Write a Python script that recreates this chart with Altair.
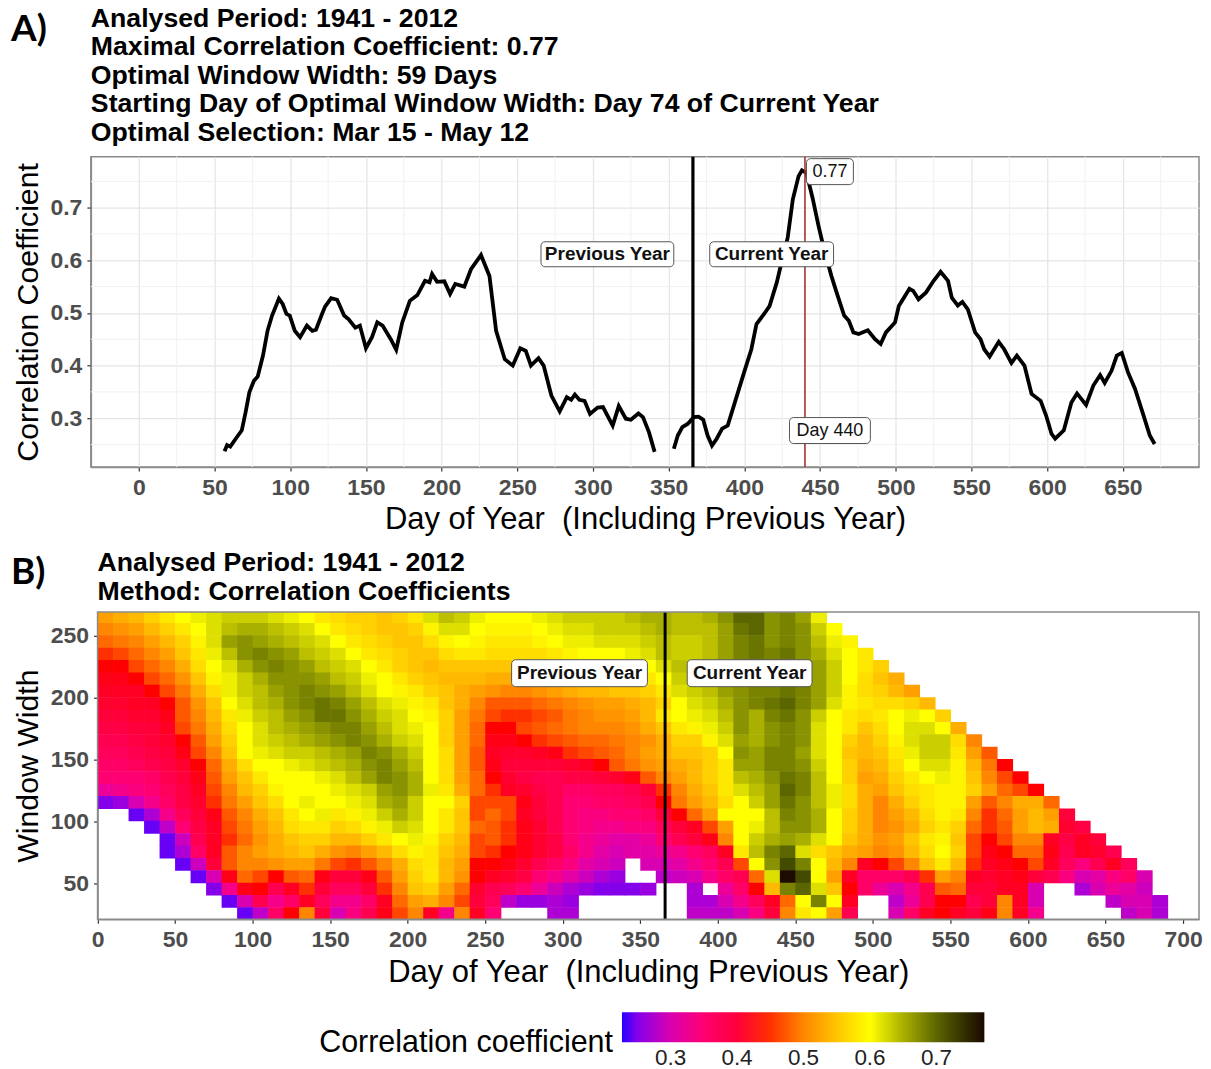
import altair as alt
import pandas as pd

FONT = "Liberation Sans"

# ---- Panel A: correlation for the optimal window width ----
prev_days = [56.6,58.3,60.4,64,68,70.5,73,76,78.5,82,85,88,92.5,95,97.5,99.7,103,106.5,111,114.6,117,121,123,127,131,135.6,138.6,143,146,150,154,157.5,161,166.4,170,174,179,184,189,192,193.7,197,201.8,205.6,209,215,219.4,226,231.6,236,241.7,247,252,255.6,259,264,267.4,272.5,278,282.7,285.6,288,291,294.4,298,303,306.6,313,317,321.7,325,330,333,337,340.7]
prev_vals = [.237,.249,.246,.261,.277,.311,.349,.371,.379,.419,.466,.495,.527,.517,.498,.495,.466,.454,.476,.466,.468,.498,.512,.528,.525,.495,.488,.472,.476,.433,.454,.482,.476,.450,.430,.482,.523,.534,.561,.558,.574,.559,.560,.536,.555,.550,.583,.610,.570,.466,.412,.400,.433,.428,.400,.414,.400,.343,.313,.340,.335,.345,.335,.333,.308,.320,.321,.286,.323,.299,.297,.309,.302,.273,.236]
curr_days = [353.4,356,359,362.5,366.6,369.7,372.8,375.7,378.6,381.7,385.3,389,393.7,399.8,404.6,408,413,416.6,421.4,425,428.6,432,435.8,438,441,445,449,452.6,457.5,461,465.9,469,472,475.5,481.5,486.3,490,493.5,499.5,502,509,511.5,515,520,525,529.6,534.5,537,541,544,547.6,552.4,556,558.4,562,568,571.6,576.4,580,585,589.7,595.7,599.3,602.9,605.3,611,616,619.7,625.7,630.5,635,638,642.5,646,649.3,653.4,658,663,667.8,671]
curr_vals = [.242,.267,.283,.289,.302,.303,.297,.267,.248,.261,.280,.286,.330,.387,.431,.479,.498,.513,.558,.602,.643,.716,.760,.771,.766,.719,.665,.621,.570,.538,.495,.485,.463,.460,.467,.450,.441,.463,.482,.513,.546,.542,.526,.539,.561,.578,.561,.529,.514,.521,.507,.463,.450,.431,.417,.445,.431,.405,.419,.400,.346,.333,.305,.270,.261,.277,.330,.347,.325,.362,.382,.367,.390,.419,.424,.387,.356,.311,.267,.251]

a_x_ticks = list(range(0, 651, 50))
a_y_ticks = [0.3, 0.4, 0.5, 0.6, 0.7]
a_x_minor = list(range(25, 676, 50))
a_y_minor = [0.25, 0.35, 0.45, 0.55, 0.65, 0.75]
a_title = ["Analysed Period: 1941 - 2012",
           "Maximal Correlation Coefficient: 0.77",
           "Optimal Window Width: 59 Days",
           "Starting Day of Optimal Window Width: Day 74 of Current Year",
           "Optimal Selection: Mar 15 - May 12"]

# ---- Panel B: values x100 by window width (rows) and starting day (columns, 0,10,...); 0 = no value ----
grid_days = list(range(0, 710, 10))
w265 = [52,53,54,56,58,60,61,62,63,63,  63,62,61,60,58,57,56,56,55,56,  58,62,64,63,61,60,60,60,61,62,  63,63,63,63,64,65,65,64,64,65,  67,70,70,67,68,66,61]
w255 = [50,51,52,54,56,58,60,62,64,65,  65,64,63,62,60,58,57,56,55,55,  56,59,62,62,60,59,59,59,60,61,  62,62,63,63,63,64,65,64,64,64,  66,69,70,67,68,67,63,60]
w245 = [48,49,50,52,54,56,59,62,66,67,  66,65,64,63,62,60,58,57,56,55,  55,57,59,60,59,58,58,58,59,60,  61,61,62,62,62,63,64,63,63,64,  66,68,69,67,68,67,64,61,59]
w235 = [45,46,48,50,52,55,58,61,64,67,  68,67,66,64,63,62,60,58,57,56,  55,55,57,58,58,57,57,57,57,58,  59,60,60,60,61,62,64,63,63,64,  66,68,69,68,69,67,65,62,60,58]
w225 = [44,44,46,48,50,53,57,60,62,65,  67,68,67,66,64,63,62,60,58,56,  55,54,55,55,55,55,55,55,55,56,  57,58,58,58,59,60,62,64,63,64,  66,67,69,68,69,67,66,63,60,58,  56]
w215 = [43,43,44,46,48,51,55,59,61,63,  65,67,67,67,66,64,63,61,60,58,  56,55,54,54,54,53,53,53,54,54,  55,56,56,57,57,58,60,63,63,64,  66,67,68,68,69,67,66,63,60,57,  55,53]
w205 = [42,42,42,44,46,49,53,57,61,63,  64,66,67,68,67,66,64,62,60,59,  58,56,55,53,52,51,50,50,51,52,  53,54,54,55,55,56,58,62,63,64,  66,67,68,68,69,68,66,63,59,57,  56,54,52]
w195 = [41,41,42,42,44,47,51,55,60,62,  64,65,67,68,69,68,66,64,62,61,  59,58,55,53,50,47,47,47,48,49,  50,51,52,52,53,54,56,60,62,63,  65,67,68,69,70,68,66,62,59,58,  57,57,56,54]
w185 = [40,40,41,41,43,47,50,54,58,61,  63,64,66,67,69,69,67,65,63,62,  60,59,56,52,49,46,45,45,46,47,  49,50,51,51,52,54,58,60,61,62,  64,67,65,68,69,67,63,60,58,57,  58,60,61,60,56]
w175 = [39,39,40,40,42,46,49,53,57,60,  62,64,65,66,67,68,68,66,64,62,  61,60,56,52,48,44,44,46,47,48,  49,50,50,50,51,53,55,58,59,61,  63,67,65,67,68,67,62,60,58,55,  57,60,62,62,60,53]
w165 = [38,38,39,40,41,44,47,52,56,60,  62,63,64,65,66,67,68,67,65,63,  62,60,56,52,48,43,43,44,45,46,  47,48,48,49,50,51,53,56,56,59,  62,66,65,67,68,67,62,60,56,54,  56,59,62,63,63,57,50]
w155 = [37,37,38,39,40,43,46,50,55,60,  61,62,63,63,64,65,66,68,67,65,  63,60,57,52,47,42,41,41,42,43,  45,46,47,48,50,52,53,55,55,56,  60,67,66,68,68,66,62,60,55,54,  55,58,61,63,63,58,52,47]
w145 = [36,36,37,38,39,41,44,48,53,57,  60,60,61,62,63,64,65,67,68,66,  64,60,57,52,47,43,40,40,40,40,  41,42,44,47,49,51,52,53,54,56,  58,66,66,68,68,67,63,60,56,53,  54,57,60,62,62,59,54,49,44]
w135 = [35,35,35,36,38,40,43,47,52,55,  58,60,60,60,61,62,64,66,68,67,  65,60,57,52,48,44,41,39,38,38,  39,39,40,41,43,47,50,52,54,56,  58,64,65,67,69,68,64,60,56,52,  53,56,58,60,61,59,55,50,46,44]
w125 = [32,33,34,35,37,39,42,46,50,54,  56,59,60,60,60,61,62,63,66,67,  65,61,58,53,48,45,42,41,39,38,  36,36,37,37,38,40,45,50,53,55,  58,62,64,66,70,68,64,61,57,53,  52,55,57,58,59,59,56,52,48,46,  44]
w115 = [25,26,30,33,36,39,41,45,49,52,  55,57,60,61,60,60,61,62,65,66,  63,60,60,56,46,46,46,43,40,38,  35,35,36,36,37,38,44,49,52,54,  57,60,63,66,69,67,64,61,57,53,  50,53,56,58,59,59,52,47,50,53,  53,48]
w105 = [0,0,24,27,33,37,40,43,47,50,  53,55,58,60,61,58,59,61,63,65,  63,60,58,55,46,48,46,42,40,38,  35,34,34,35,35,36,40,44,48,52,  60,60,60,64,68,67,65,60,56,53,  50,52,54,57,59,58,50,45,48,52,  54,52,40]
w95  = [0,0,0,24,28,35,39,42,46,49,  52,54,57,58,58,56,57,59,61,63,  62,60,58,55,48,47,45,43,41,38,  35,34,33,33,34,34,37,40,42,46,  52,60,61,64,67,67,65,60,56,53,  50,51,53,56,58,56,48,45,47,52,  54,53,41,39]
w85  = [0,0,0,0,24,29,38,42,45,48,  51,53,55,56,56,54,54,56,58,60,  61,59,56,54,46,47,45,43,41,39,  35,33,32,31,31,32,35,38,40,43,  50,60,63,65,66,65,62,60,55,53,  51,52,55,58,59,55,46,44,46,50,  50,42,39,42,40]
w75  = [0,0,0,0,24,27,36,42,47,50,  52,53,54,55,53,51,50,52,54,57,  59,58,55,53,46,45,44,43,41,39,  36,33,31,30,31,31,32,33,35,37,  42,58,64,68,70,62,57,55,53,52,  50,51,54,57,60,56,46,43,44,48,  48,43,38,42,41,38]
w65  = [0,0,0,0,0,24,29,40,47,50,  50,51,52,52,49,46,45,47,50,53,  57,58,54,52,44,44,43,41,38,36,  34,31,30,29,0,30,30,31,33,35,  38,46,60,67,72,68,60,54,50,42,  44,46,50,55,58,54,45,42,43,44,  46,42,37,34,38,42,37]
w55  = [0,0,0,0,0,0,24,30,43,48,  46,44,47,48,43,40,40,43,47,52,  56,58,54,51,44,42,41,39,35,33,  31,29,27,26,0,0,28,29,30,33,  36,38,48,62,77,72,60,52,42,36,  36,36,38,45,52,50,42,41,42,43,  40,38,34,30,31,34,36,30]
w45  = [0,0,0,0,0,0,0,25,33,43,  44,38,42,45,40,37,37,40,45,50,  55,56,52,48,41,38,37,35,32,29,  27,26,25,25,25,26,0,0,27,0,  32,36,44,54,68,70,62,55,44,36,  32,30,33,38,47,48,40,40,42,42,  30,0,0,27,30,32,31,29]
w35  = [0,0,0,0,0,0,0,0,24,30,  38,33,36,42,37,33,33,36,42,48,  52,53,50,46,40,37,28,26,26,27,  26,0,0,0,0,0,0,0,27,27,  30,33,37,42,48,60,68,60,42,0,  0,28,32,38,44,44,38,40,50,42,  30,0,0,0,0,28,30,30,27]
w25  = [0,0,0,0,0,0,0,0,0,24,  28,36,44,50,40,30,34,38,43,46,  50,42,33,50,42,35,0,0,0,27,  27,0,0,0,0,0,0,0,28,28,  28,30,34,40,50,58,60,52,38,0,  0,30,36,42,44,42,40,43,50,42,  33,0,0,0,0,0,28,30,27]
grid_rows = {265: w265, 255: w255, 245: w245, 235: w235, 225: w225, 215: w215, 205: w205, 195: w195,
             185: w185, 175: w175, 165: w165, 155: w155, 145: w145, 135: w135, 125: w125, 115: w115,
             105: w105, 95: w95, 85: w85, 75: w75, 65: w65, 55: w55, 45: w45, 35: w35, 25: w25}

b_x_ticks = list(range(0, 701, 50))
b_y_ticks = [50, 100, 150, 200, 250]
b_title = ["Analysed Period: 1941 - 2012", "Method: Correlation Coefficients"]
legend_values = [0.3, 0.4, 0.5, 0.6, 0.7]
legend_title = ["Correlation coefficient"]

x_title = "Day of Year \u00a0(Including Previous Year)"
GREY = "#4d4d4d"
BORDER = "#8a8a8a"
GRID = "#e6e6e6"
B_SHIFT = 6.7      # panel B's plot starts this many pixels right of panel A's
PANEL_W = 1110


def axis(values, title, fmt=None, title_pad=6, grid=True, offset=None, title_size=31):
    kw = dict(values=values, title=title, grid=grid, gridColor=GRID, gridWidth=1.3,
              labelFont=FONT, labelFontSize=23, labelFontWeight="bold", labelColor=GREY, labelFlush=False,
              titleFont=FONT, titleFontSize=title_size, titleFontWeight="normal", titleColor="black",
              titlePadding=title_pad, tickColor="#333333", tickSize=4, tickWidth=1.2,
              domainColor=BORDER, domainWidth=1.5, labelPadding=5, labelOverlap=False)
    if fmt:
        kw["format"] = fmt
    if offset is not None:
        kw["offset"] = offset
    return alt.Axis(**kw)


def title_lines(lines, offsets, px=0):
    return [alt.Chart(pd.DataFrame({"t": [line]})).mark_text(
        font=FONT, fontSize=26.7, fontWeight="bold", color="black", align="left", baseline="middle").encode(
        x=alt.value(px), y=alt.value(off), text="t:N") for line, off in zip(lines, offsets)]


def letter(text, px, py):
    return alt.Chart(pd.DataFrame({"t": [text]})).mark_text(
        font="Lato", fontSize=37, fontWeight="bold", color="black", align="left", baseline="middle").encode(
        x=alt.value(px), y=alt.value(py), text="t:N")


def labels(df, xs, ys, ax, ay, width_map, height, weight, size):
    out = []
    for text, w in width_map.items():
        sub = df[df["t"] == text]
        out.append(alt.Chart(sub).mark_rect(width=w, height=height, fill="white", stroke="#555555",
                                            strokeWidth=1, cornerRadius=4).encode(
            x=alt.X("d:Q", scale=xs, axis=ax), y=alt.Y("v:Q", scale=ys, axis=ay)))
    out.append(alt.Chart(df).mark_text(font=FONT, fontSize=size, fontWeight=weight, color="#111111",
                                       baseline="middle", align="center").encode(
        x=alt.X("d:Q", scale=xs, axis=ax), y=alt.Y("v:Q", scale=ys, axis=ay), text="t:N"))
    return out


# ---------- Panel A ----------
xa = alt.Scale(domain=[-31.7, 700.3], nice=False, zero=False)
ya = alt.Scale(domain=[0.207, 0.797], nice=False, zero=False)
ax_xa = axis(a_x_ticks, x_title, title_pad=5.5)
ax_ya = axis(a_y_ticks, "Correlation Coefficient", ".1f", title_pad=6.5, title_size=30.3)

line_df = pd.DataFrame({"d": prev_days + curr_days, "v": prev_vals + curr_vals,
                        "s": ["p"] * len(prev_days) + ["c"] * len(curr_days)})
minor_xa = alt.Chart(pd.DataFrame({"d": a_x_minor})).mark_rule(color="#f1f1f1", strokeWidth=1).encode(
    x=alt.X("d:Q", scale=xa, axis=ax_xa))
minor_ya = alt.Chart(pd.DataFrame({"v": a_y_minor})).mark_rule(color="#f1f1f1", strokeWidth=1).encode(
    y=alt.Y("v:Q", scale=ya, axis=ax_ya))
base_a = alt.Chart(line_df).mark_line(color="black", strokeWidth=3.8, clip=True).encode(
    x=alt.X("d:Q", scale=xa, axis=ax_xa), y=alt.Y("v:Q", scale=ya, axis=ax_ya), detail="s:N")
vline_a = alt.Chart(pd.DataFrame({"d": [366]})).mark_rule(color="black", strokeWidth=3.2).encode(
    x=alt.X("d:Q", scale=xa, axis=ax_xa))
red_a = alt.Chart(pd.DataFrame({"d": [440]})).mark_rule(color="#a83232", strokeWidth=1.6).encode(
    x=alt.X("d:Q", scale=xa, axis=ax_xa))

lab_a_bold = pd.DataFrame({"d": [309.5, 418], "v": [0.6115, 0.6115], "t": ["Previous Year", "Current Year"]})
lab_a_reg = pd.DataFrame({"d": [456.5, 456.5], "v": [0.7685, 0.2765], "t": ["0.77", "Day 440"]})

panel_a = alt.layer(
    minor_xa, minor_ya, base_a, vline_a, red_a,
    *labels(lab_a_bold, xa, ya, ax_xa, ax_ya, {"Previous Year": 133, "Current Year": 124}, 25, "bold", 19),
    *labels(lab_a_reg, xa, ya, ax_xa, ax_ya, {"0.77": 47, "Day 440": 81}, 26, "normal", 18),
    *title_lines(a_title, [-138, -110, -81, -53, -24]),
    letter("A)", -80, -127),
).properties(width=PANEL_W, height=311)

# ---------- Panel B ----------
xb = alt.Scale(domain=[0, 710.3], range=[B_SHIFT, PANEL_W], nice=False, zero=False)
yb = alt.Scale(domain=[20.7, 269.4], nice=False, zero=False)
ax_xb = axis(b_x_ticks, x_title, title_pad=6.5, grid=False)
ax_yb = axis(b_y_ticks, "Window Width", title_pad=7, grid=False, offset=-B_SHIFT, title_size=30.3)

records = []
for wc, row in grid_rows.items():
    for d, v in zip(grid_days, row):
        if v:
            # the small overlap closes the hairlines between neighbouring cells
            records.append({"d0": d, "d1": d + 10.4, "w0": wc - 5, "w1": wc + 5.4, "r": v / 100})
cells = pd.DataFrame(records)

col_scale = alt.Scale(domain=[0.227, 0.44, 0.60, 0.772], range=["#2400ff", "#ff0000", "#ffff00", "#000000"], clamp=True)
heat = alt.Chart(cells).mark_rect(clip=True).encode(
    x=alt.X("d0:Q", scale=xb, axis=ax_xb),
    x2="d1:Q",
    y=alt.Y("w0:Q", scale=yb, axis=ax_yb),
    y2="w1:Q",
    color=alt.Color("r:Q", scale=col_scale, legend=alt.Legend(
        type="gradient", orient="none", legendX=532, legendY=857, direction="horizontal", values=legend_values,
        title=None, labelFont=FONT, labelFontSize=22.5, labelColor="#222222", format=".1f",
        gradientLength=363, gradientThickness=30, gradientStrokeWidth=0, labelOffset=5)),
)
vline_b = alt.Chart(pd.DataFrame({"d": [366]})).mark_rule(color="black", strokeWidth=3).encode(
    x=alt.X("d:Q", scale=xb, axis=ax_xb))
lab_b = pd.DataFrame({"d": [310.8, 420.5], "v": [219.8, 219.8], "t": ["Previous Year", "Current Year"]})

# frame round the shifted plot area: the axes draw the left and bottom sides
frame_b = alt.Chart(pd.DataFrame({"k": [0]})).mark_rect(fill=None, stroke=BORDER, strokeWidth=1.5).encode(
    x=alt.value(B_SHIFT), x2=alt.value(PANEL_W), y=alt.value(0), y2=alt.value(308))
legend_name = alt.Chart(pd.DataFrame({"t": legend_title})).mark_text(
    font=FONT, fontSize=30.5, color="black", align="right", baseline="middle").encode(
    x=alt.value(523), y=alt.value(432), text="t:N")

panel_b = alt.layer(
    heat, vline_b, frame_b,
    *labels(lab_b, xb, yb, ax_xb, ax_yb, {"Previous Year": 136, "Current Year": 125}, 27, "bold", 19),
    *title_lines(b_title, [-49, -20], px=B_SHIFT),
    letter("B)", -80, -39),
    legend_name,
).properties(width=PANEL_W, height=308, view=alt.ViewConfig(stroke=None))

chart = alt.vconcat(panel_a, panel_b, spacing=14).properties(
    padding={"left": 2, "top": -4, "right": 0, "bottom": 0}
).configure_view(stroke=BORDER, strokeWidth=1.5)

chart.save("out.html", embed_options={"renderer": "svg", "actions": False})
